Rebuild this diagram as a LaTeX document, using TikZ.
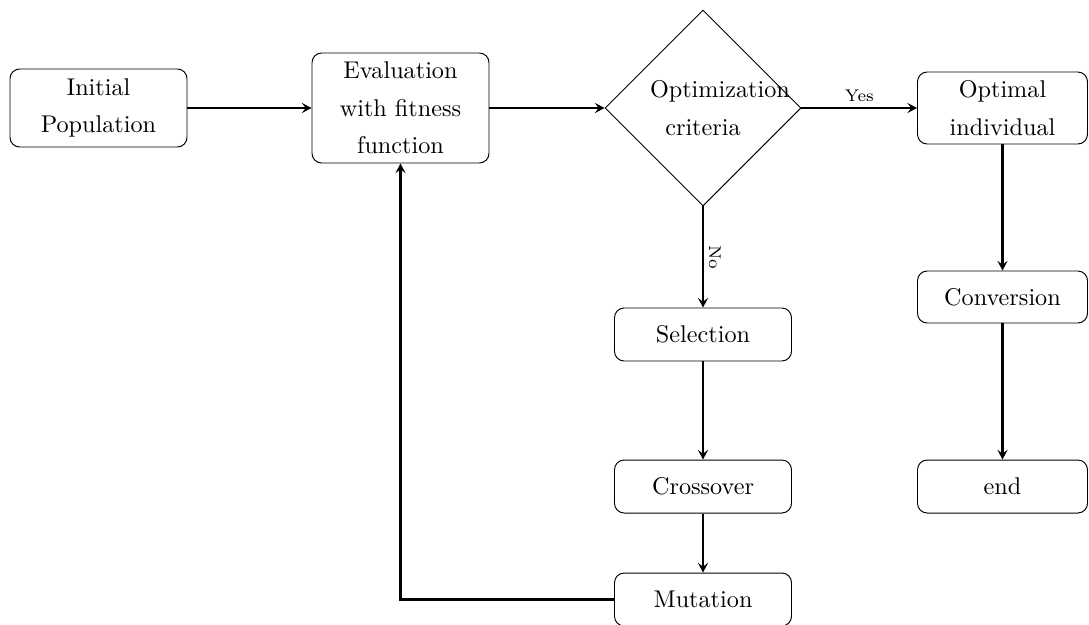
\documentclass[tikz,border=0pt]{standalone}
\usetikzlibrary{shapes.geometric,arrows.meta}
\newcommand{\pu}{0.413pt}
\tikzset{
  box/.style={draw, rounded corners=4pt, line width=0.4pt, align=center, inner sep=2pt,
    font=\fontsize{10}{15.5}\selectfont},
  dec/.style={draw, diamond, aspect=1, line width=0.4pt, inner sep=0pt, minimum size=196*\pu,
    text width=106*\pu, align=center, font=\fontsize{10}{15.5}\selectfont},
  conn/.style={line width=0.9pt, -{Stealth[length=4pt,width=4.2pt,inset=1.6pt]}},
  lbl/.style={font=\scriptsize, inner sep=2pt}
}
\begin{document}
\begin{tikzpicture}[x=\pu, y=-\pu]
\useasboundingbox (0,0) rectangle (1089,624);
\node[box, minimum width=177*\pu, minimum height=78*\pu] (init) at (98.5,108) {Initial\\Population};
\node[box, minimum width=177*\pu, minimum height=110*\pu] (eval) at (400.5,108) {Evaluation\\with fitness\\function};
\node[dec] (opt) at (703,108) {Optimization criteria};
\node[box, minimum width=170*\pu, minimum height=72*\pu] (best) at (1002.5,108) {Optimal\\individual};
\node[box, minimum width=177*\pu, minimum height=53*\pu] (sel) at (703,334.5) {Selection};
\node[box, minimum width=177*\pu, minimum height=53*\pu] (cross) at (703,486.5) {Crossover};
\node[box, minimum width=177*\pu, minimum height=53*\pu] (mut) at (703,599.5) {Mutation};
\node[box, minimum width=170*\pu, minimum height=52*\pu] (conv) at (1002.5,297) {Conversion};
\node[box, minimum width=170*\pu, minimum height=53*\pu] (fin) at (1002.5,486.5) {end};
\draw[conn] (init) -- (eval);
\draw[conn] (eval) -- (opt);
\draw[conn] (opt.east) -- node[lbl, above, midway] {Yes} (best.west);
\draw[conn] (opt.south) -- node[lbl, midway, rotate=-90, anchor=south] {No} (sel.north);
\draw[conn] (sel) -- (cross);
\draw[conn] (cross) -- (mut);
\draw[conn] (mut.west) -| (eval.south);
\draw[conn] (best) -- (conv);
\draw[conn] (conv) -- (fin);
\end{tikzpicture}
\end{document}
